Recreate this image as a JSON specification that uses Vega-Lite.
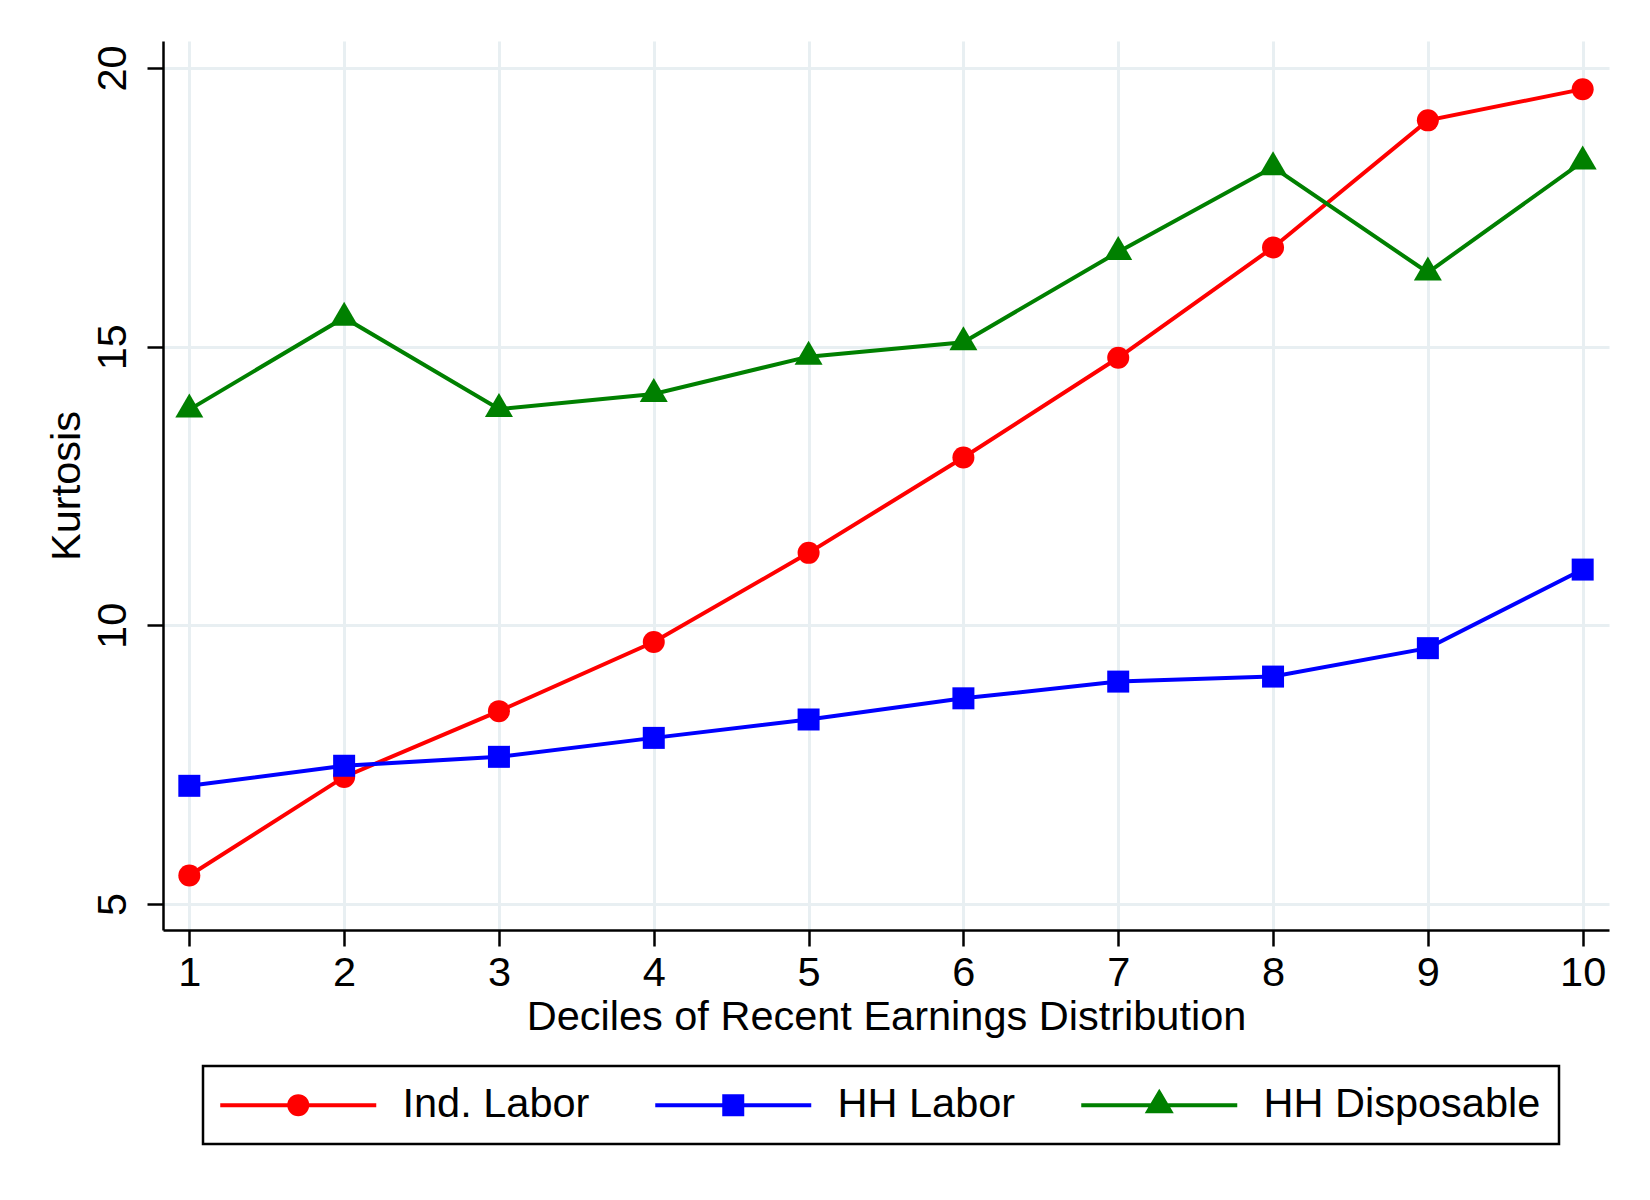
{
  "$schema": "https://vega.github.io/schema/vega-lite/v6.json",
  "width": 1446,
  "height": 889,
  "autosize": {"type": "none"},
  "padding": {"left": 163, "top": 41, "right": 41, "bottom": 270},
  "background": "white",
  "data": {
    "values": [
      {"decile": 1, "series": "Ind. Labor", "kurtosis": 5.51},
      {"decile": 2, "series": "Ind. Labor", "kurtosis": 7.28},
      {"decile": 3, "series": "Ind. Labor", "kurtosis": 8.46},
      {"decile": 4, "series": "Ind. Labor", "kurtosis": 9.70},
      {"decile": 5, "series": "Ind. Labor", "kurtosis": 11.30},
      {"decile": 6, "series": "Ind. Labor", "kurtosis": 13.01},
      {"decile": 7, "series": "Ind. Labor", "kurtosis": 14.80},
      {"decile": 8, "series": "Ind. Labor", "kurtosis": 16.78},
      {"decile": 9, "series": "Ind. Labor", "kurtosis": 19.06},
      {"decile": 10, "series": "Ind. Labor", "kurtosis": 19.62},
      {"decile": 1, "series": "HH Labor", "kurtosis": 7.12},
      {"decile": 2, "series": "HH Labor", "kurtosis": 7.48},
      {"decile": 3, "series": "HH Labor", "kurtosis": 7.64},
      {"decile": 4, "series": "HH Labor", "kurtosis": 7.98},
      {"decile": 5, "series": "HH Labor", "kurtosis": 8.31},
      {"decile": 6, "series": "HH Labor", "kurtosis": 8.69},
      {"decile": 7, "series": "HH Labor", "kurtosis": 8.99},
      {"decile": 8, "series": "HH Labor", "kurtosis": 9.08},
      {"decile": 9, "series": "HH Labor", "kurtosis": 9.59},
      {"decile": 10, "series": "HH Labor", "kurtosis": 11.00},
      {"decile": 1, "series": "HH Disposable", "kurtosis": 13.87},
      {"decile": 2, "series": "HH Disposable", "kurtosis": 15.52},
      {"decile": 3, "series": "HH Disposable", "kurtosis": 13.88},
      {"decile": 4, "series": "HH Disposable", "kurtosis": 14.15},
      {"decile": 5, "series": "HH Disposable", "kurtosis": 14.82},
      {"decile": 6, "series": "HH Disposable", "kurtosis": 15.08},
      {"decile": 7, "series": "HH Disposable", "kurtosis": 16.70},
      {"decile": 8, "series": "HH Disposable", "kurtosis": 18.22},
      {"decile": 9, "series": "HH Disposable", "kurtosis": 16.33},
      {"decile": 10, "series": "HH Disposable", "kurtosis": 18.32}
    ]
  },
  "encoding": {
    "x": {
      "field": "decile",
      "type": "quantitative",
      "scale": {"domain": [0.83, 10.17], "nice": false, "zero": false},
      "axis": {
        "values": [1, 2, 3, 4, 5, 6, 7, 8, 9, 10],
        "title": "Deciles of Recent Earnings Distribution",
        "tickSize": 16,
        "labelPadding": 6,
        "titlePadding": 3,
        "labelFlush": false,
        "labelOverlap": false
      }
    },
    "y": {
      "field": "kurtosis",
      "type": "quantitative",
      "scale": {"domain": [4.533, 20.484], "nice": false, "zero": false},
      "axis": {
        "values": [5, 10, 15, 20],
        "title": "Kurtosis",
        "tickSize": 16,
        "labelAngle": 270,
        "labelAlign": "center",
        "labelBaseline": "bottom",
        "labelPadding": 13,
        "titlePadding": 4,
        "labelFlush": false,
        "labelOverlap": false
      }
    },
    "color": {
      "field": "series",
      "type": "nominal",
      "scale": {
        "domain": ["Ind. Labor", "HH Labor", "HH Disposable"],
        "range": ["#ff0000", "#0000ff", "#008000"]
      },
      "legend": {
        "title": null,
        "orient": "none",
        "legendX": 40,
        "legendY": 1025,
        "direction": "horizontal",
        "columns": 3,
        "labelFontSize": 41.5,
        "labelColor": "black",
        "labelLimit": 500,
        "labelOffset": 140,
        "symbolSize": 100,
        "symbolStrokeWidth": 4,
        "padding": 18,
        "columnPadding": 57,
        "strokeColor": "black",
        "fillColor": "white",
        "encode": {
          "legend": {"update": {"strokeWidth": {"value": 2.5}}},
          "symbols": {
            "update": {
              "shape": {"signal": "datum.value === 'Ind. Labor' ? 'M-4.3,0H26.9M13.1,0A1.8,1.8,0,1,1,9.5,0A1.8,1.8,0,1,1,13.1,0Z' : datum.value === 'HH Labor' ? 'M-4.3,0H26.9M9.5,-1.8H13.1V1.8H9.5Z' : 'M-4.3,0H26.9M11.3,-2.5L13.5,1.2L9.1,1.2Z'"},
              "fill": {"signal": "scale('color', datum.value)"},
              "stroke": {"signal": "scale('color', datum.value)"},
              "strokeWidth": {"value": 4},
              "size": {"value": 100},
              "opacity": {"value": 1},
              "fillOpacity": {"value": 1},
              "strokeOpacity": {"value": 1}
            }
          }
        }
      }
    }
  },
  "layer": [
    {
      "mark": {"type": "line", "strokeWidth": 4}
    },
    {
      "transform": [{"filter": "datum.series === 'Ind. Labor'"}],
      "mark": {"type": "point", "shape": "circle", "filled": true, "opacity": 1, "size": 484}
    },
    {
      "transform": [{"filter": "datum.series === 'HH Labor'"}],
      "mark": {"type": "point", "shape": "square", "filled": true, "opacity": 1, "size": 484}
    },
    {
      "transform": [{"filter": "datum.series === 'HH Disposable'"}],
      "mark": {"type": "point", "shape": "M0,-1.455L1.273,0.727L-1.273,0.727Z", "filled": true, "opacity": 1, "size": 484}
    }
  ],
  "config": {
    "font": "Liberation Sans",
    "view": {"stroke": null, "fill": "white"},
    "axis": {
      "domainColor": "black",
      "domainWidth": 2.5,
      "tickColor": "black",
      "tickWidth": 2.5,
      "labelColor": "black",
      "labelFontSize": 41.5,
      "labelFont": "Liberation Sans",
      "titleColor": "black",
      "titleFontSize": 41.5,
      "titleFont": "Liberation Sans",
      "titleFontWeight": "normal",
      "grid": true,
      "gridColor": "#e8eff2",
      "gridWidth": 3
    },
    "legend": {
      "labelFont": "Liberation Sans"
    }
  }
}
